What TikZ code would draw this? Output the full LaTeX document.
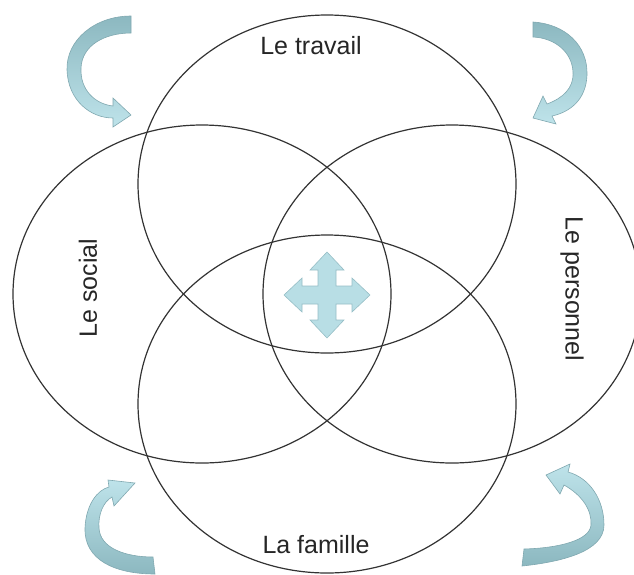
\documentclass[tikz,border=0pt]{standalone}
\usepackage{fontspec}
\setmainfont{Liberation Sans}
\definecolor{ribbondark}{RGB}{140,184,192}
\definecolor{ribbonlight}{RGB}{190,227,234}
\definecolor{ribbonedge}{RGB}{128,168,176}
\definecolor{quadfill}{RGB}{184,222,229}
\definecolor{quadedge}{RGB}{150,190,198}
\begin{document}
\begin{tikzpicture}[x=1pt,y=-1pt,
  ring/.style={draw=black!80, line width=1.2pt},
  areatext/.style={font=\fontsize{25}{30}\selectfont, text=black!85, inner sep=0pt},
  ribbondown/.style={draw=ribbonedge, line width=0.6pt, top color=ribbondark, middle color=ribbondark!50!ribbonlight, bottom color=ribbonlight},
  ribbonup/.style={draw=ribbonedge, line width=0.6pt, top color=ribbonlight, middle color=ribbondark!50!ribbonlight, bottom color=ribbondark},
  quad/.style={draw=quadedge, fill=quadfill, line width=0.6pt}]
\useasboundingbox (0,0) rectangle (634,574);

% curved arrows in the four corners
\path[ribbondown] (131,16) .. controls (95,16) and (66,40) .. (67,70)
  .. controls (68,100) and (90,118) .. (113,118) -- (113,127) -- (131,115) -- (113,98) -- (113,106)
  .. controls (95,104) and (80,90) .. (81,68) .. controls (82,45) and (105,33) .. (131,33) -- cycle;
\path[ribbondown] (533,22) .. controls (565,24) and (588,45) .. (587,75)
  .. controls (586,100) and (570,112) .. (552,116) -- (556,124) -- (533,118) -- (543,96) -- (547,104)
  .. controls (563,98) and (574,88) .. (573,72) .. controls (572,52) and (555,38) .. (533,37) -- cycle;
\path[ribbonup] (155,574) .. controls (115,574) and (84,560) .. (85,528)
  .. controls (86,505) and (97,490) .. (109,487) -- (108,480) -- (135,483) -- (114,506) -- (112,497)
  .. controls (103,502) and (98,515) .. (99,528) .. controls (100,548) and (125,557) .. (153,557) -- cycle;
\path[ribbonup] (522,566) .. controls (560,562) and (604,552) .. (604,525)
  .. controls (604,500) and (590,478) .. (568,472) -- (570,464) -- (546,475) -- (560,494) -- (564,485)
  .. controls (582,495) and (592,510) .. (591,525) .. controls (590,540) and (560,548) .. (524,549) -- cycle;

% four-way arrow in the middle
\path[quad] (327,252) -- (344,270) -- (336,270) -- (336,286) -- (352,286) -- (352,278) -- (370,295)
  -- (352,312) -- (352,304) -- (336,304) -- (336,320) -- (344,320) -- (327,338) -- (310,320)
  -- (318,320) -- (318,304) -- (302,304) -- (302,312) -- (284,295) -- (302,278) -- (302,286)
  -- (318,286) -- (318,270) -- (310,270) -- cycle;

% the four overlapping areas
\draw[ring] (327,184) ellipse [x radius=189pt, y radius=169pt];
\draw[ring] (202,294) ellipse [x radius=189pt, y radius=169pt];
\draw[ring] (452,294) ellipse [x radius=189pt, y radius=169pt];
\draw[ring] (327,404) ellipse [x radius=189pt, y radius=169pt];

\node[areatext] (travail) at (311,46) {Le travail};
\node[areatext] (famille) at (316,545) {La famille};
\node[areatext, rotate=90] (social) at (88,288) {Le social};
\node[areatext, rotate=-90] (personnel) at (572,289) {Le personnel};
\end{tikzpicture}
\end{document}
